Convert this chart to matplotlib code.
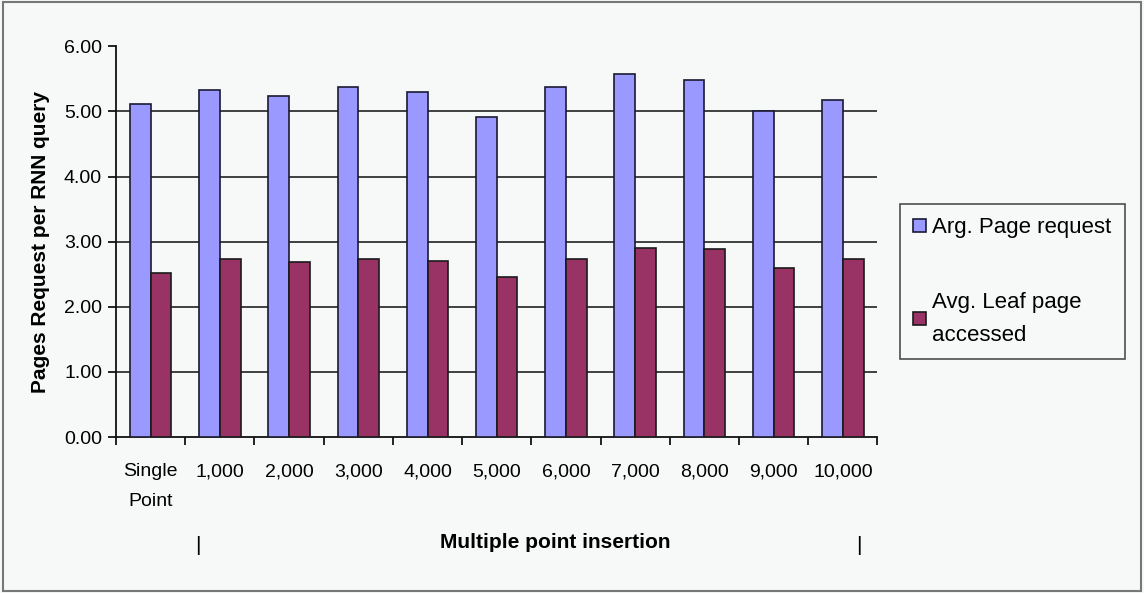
import matplotlib.pyplot as plt
import numpy as np
from matplotlib.patches import Rectangle

categories = ['Single\nPoint', '1,000', '2,000', '3,000', '4,000', '5,000',
              '6,000', '7,000', '8,000', '9,000', '10,000']
page_request = [5.11, 5.33, 5.23, 5.38, 5.29, 4.91, 5.38, 5.58, 5.48, 5.01, 5.18]
leaf_accessed = [2.52, 2.73, 2.68, 2.73, 2.71, 2.46, 2.73, 2.90, 2.88, 2.59, 2.73]
yticks = [0, 1, 2, 3, 4, 5, 6]

plt.rcParams['font.family'] = ['Liberation Sans', 'DejaVu Sans']
bg = '#f7f9f9'

fig = plt.figure(figsize=(11.44, 5.93), dpi=100, facecolor=bg)
ax = fig.add_axes([0.1014, 0.263, 0.6656, 0.659], facecolor=bg)

x = np.arange(len(categories))
w = 0.3
ax.bar(x - w / 2, page_request, w, color='#9999ff', edgecolor='#1a1a33',
       linewidth=1.2, label='Arg. Page request', zorder=3)
ax.bar(x + w / 2, leaf_accessed, w, color='#993366', edgecolor='#1a1a1a',
       linewidth=1.2, label='Avg. Leaf page\naccessed', zorder=3)

ax.set_xlim(-0.5, len(categories) - 0.5)
ax.set_ylim(0, 6)
ax.set_yticks(yticks)
ax.set_yticklabels([f'{v:.2f}' for v in yticks], fontsize=14)
for v in yticks[1:-1]:
    ax.axhline(v, color='#222222', linewidth=1.2, zorder=1)

# category boundaries carry the ticks, labels sit at the centres
ax.set_xticks(np.arange(len(categories) + 1) - 0.5)
ax.set_xticklabels([])
ax.set_xticks(x, minor=True)
ax.set_xticklabels(categories, minor=True, fontsize=14, linespacing=2.0)
ax.tick_params(axis='x', which='minor', length=0, pad=19)
ax.tick_params(axis='x', which='major', length=6, width=1.2, direction='out')
ax.tick_params(axis='y', length=6, width=1.2, direction='out', pad=4)

for s in ['top', 'right']:
    ax.spines[s].set_visible(False)
for s in ['left', 'bottom']:
    ax.spines[s].set_linewidth(1.3)
    ax.spines[s].set_color('#111111')

ax.set_ylabel('Pages Request per RNN query', fontsize=15, fontweight='bold', labelpad=10)

fig.text(0.485, 0.085, 'Multiple point insertion', fontsize=15, fontweight='bold',
         ha='center', va='center')
fig.text(0.173, 0.08, '|', fontsize=15, ha='center', va='center')
fig.text(0.751, 0.08, '|', fontsize=15, ha='center', va='center')

leg = ax.legend(loc='upper left', bbox_to_anchor=(900 / 1144, 1 - 204 / 593),
                bbox_transform=fig.transFigure, borderaxespad=0, fontsize=16,
                frameon=True, fancybox=False, edgecolor='#222222',
                facecolor=bg, handlelength=0.55, handleheight=0.55,
                handletextpad=0.3, labelspacing=2.4, borderpad=0.6)
leg.get_frame().set_linewidth(1.2)
leg.get_texts()[1].set_linespacing(1.75)

fig.patches.append(Rectangle((0.003, 0.004), 0.994, 0.992, transform=fig.transFigure,
                             fill=False, edgecolor='#777777', linewidth=1.5))

fig.savefig('out.png', dpi=100, facecolor=bg)
